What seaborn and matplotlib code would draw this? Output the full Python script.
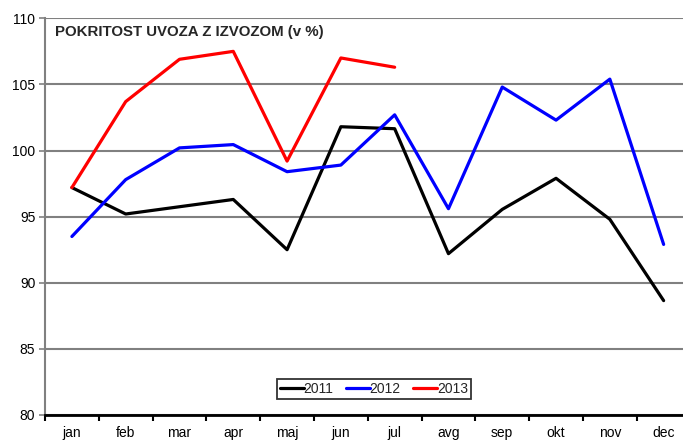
import matplotlib
matplotlib.use("Agg")
import matplotlib.pyplot as plt
import seaborn as sns
import pandas as pd
import numpy as np

months = ["jan", "feb", "mar", "apr", "maj", "jun", "jul", "avg", "sep", "okt", "nov", "dec"]
y2011 = [97.2, 95.2, 95.75, 96.3, 92.5, 101.8, 101.65, 92.2, 95.55, 97.9, 94.8, 88.65]
y2012 = [93.5, 97.8, 100.2, 100.45, 98.4, 98.9, 102.7, 95.6, 104.8, 102.3, 105.4, 92.9]
y2013 = [97.2, 103.7, 106.9, 107.5, 99.2, 107.0, 106.3]
series_names = ["2011", "2012", "2013"]
colors = ["#000000", "#0000FF", "#FF0000"]
title = "POKRITOST UVOZA Z IZVOZOM (v %)"

rows = []
for name, vals in zip(series_names, [y2011, y2012, y2013]):
    for i, v in enumerate(vals):
        rows.append({"mesec": i, "vrednost": v, "leto": name})
df = pd.DataFrame(rows)

sns.set_theme(style="white")
plt.rcParams["font.family"] = ["Liberation Sans", "DejaVu Sans"]

fig = plt.figure(figsize=(6.83, 4.42), dpi=100)
ax = fig.add_axes([45 / 683, 1 - 415 / 442, 1 - 45 / 683, (415 - 18.3) / 442])

sns.lineplot(data=df, x="mesec", y="vrednost", hue="leto", palette=colors,
             linewidth=2.3, ax=ax, legend=True, sort=False)

ax.set_yticks(np.arange(80, 111, 5))
ax.set_yticklabels([str(v) for v in range(80, 111, 5)], fontsize=10)
ax.set_xticks(range(12))
ax.set_xticklabels(months, fontsize=10)
ax.set_xticks(np.arange(-0.5, 12, 1), minor=True)
ax.set_ylim(80, 110)
ax.set_xlim(-0.5, 11.36)
ax.tick_params(axis="x", which="major", length=0, pad=8, colors="black")
ax.tick_params(axis="x", which="minor", length=4, width=1.5, direction="out", color="black", bottom=True)
ax.tick_params(axis="y", length=4, width=1.2, color="#808080", direction="out", left=True, pad=3, labelcolor="black")
ax.set_xlabel("")
ax.set_ylabel("")

ax.grid(axis="y", color="#808080", linewidth=1.5)
ax.grid(axis="x", visible=False)
ax.set_axisbelow(True)
for s in ["top", "right"]:
    ax.spines[s].set_visible(False)
ax.spines["left"].set_color("#808080")
ax.spines["left"].set_linewidth(1.5)
ax.spines["bottom"].set_color("black")
ax.spines["bottom"].set_linewidth(2)
ax.spines["bottom"].set_zorder(5)

ax.text((55 - 45) / (683 - 45), (415 - 32) / 397, title, transform=ax.transAxes,
        fontsize=10.8, fontweight="bold", va="center", ha="left")

handles, labels = ax.get_legend_handles_labels()
leg = ax.legend(handles, labels, loc="center", bbox_to_anchor=((374 - 45) / 638, (415 - 389) / 397),
                ncol=3, frameon=True, fancybox=False, fontsize=10, handlelength=1.7,
                handletextpad=0.0, columnspacing=0.9, borderpad=0.25, borderaxespad=0)
leg.get_frame().set_edgecolor("black")
leg.get_frame().set_linewidth(1.3)
for line in leg.get_lines():
    line.set_linewidth(2.3)

fig.savefig("out.png", dpi=100)
